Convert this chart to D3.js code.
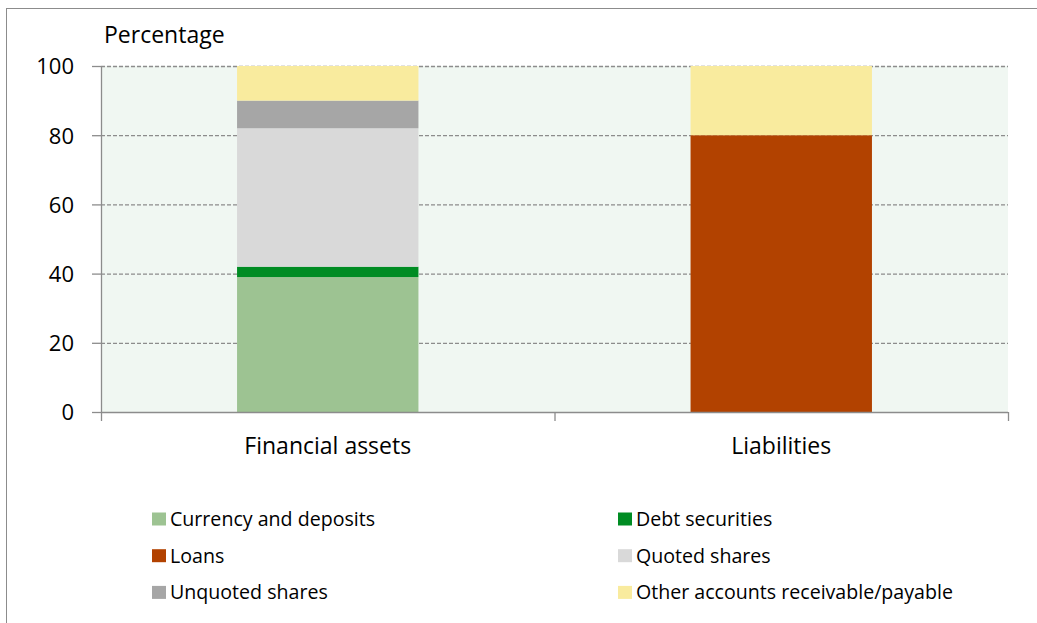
<!DOCTYPE html>
<html>
<head>
<meta charset="utf-8">
<script src="https://d3js.org/d3.v7.min.js"></script>
<style>
	body { margin:0; background:#fff; overflow:hidden; }
	svg text { font-family: "Open Sans", sans-serif; fill:#000; }
</style>
</head>
<body>
<div id="chart"></div>
<script>
// categories and series (percent of total)
var categories = ['Financial assets', 'Liabilities'];
var seriesNames = ['Currency and deposits', 'Debt securities', 'Loans', 'Quoted shares', 'Unquoted shares', 'Other accounts receivable/payable'];
var currency = [39, 0];
var debt = [3, 0];
var loans = [0, 80];
var quoted = [40, 0];
var unquoted = [8, 0];
var other = [10, 20];
var colors = ['#9dc392', '#008c23', '#b24200', '#d9d9d9', '#a6a6a6', '#f9eb9e'];
var yTicks = [0, 20, 40, 60, 80, 100];

var width = 1037, height = 623,
	margin = {top:66, bottom:211, left:101, right:29};

var rows = categories.map(function(c, i){
	return {cat:c, s0:currency[i], s1:debt[i], s2:loans[i], s3:quoted[i], s4:unquoted[i], s5:other[i]};
});
var stack = d3.stack().keys(['s0','s1','s2','s3','s4','s5'])(rows);

var svg = d3.select('#chart').append('svg')
	.attr('width', width).attr('height', height);

// outer frame (runs off the right and bottom)
svg.append('rect')
	.attr('x', 6.5).attr('y', 8.5).attr('width', 1040).attr('height', 640)
	.attr('fill', 'none').attr('stroke', '#8c8c8c').attr('stroke-width', 1);

var pw = width - margin.left - margin.right,
	ph = height - margin.top - margin.bottom;

var x = d3.scaleBand().domain(categories).range([0, pw]).paddingInner(0.6).paddingOuter(0.3);
var y = d3.scaleLinear().domain([0, 100]).range([ph, 0]);

var g = svg.append('g').attr('transform', 'translate(' + margin.left + ',' + margin.top + ')');

g.append('rect').attr('width', pw).attr('height', ph).attr('fill', '#f0f7f2');

// gridlines
g.selectAll('.grid').data(yTicks.slice(1)).enter().append('line')
	.attr('x1', 0).attr('x2', pw)
	.attr('y1', function(d){ return y(d) + 0.5; }).attr('y2', function(d){ return y(d) + 0.5; })
	.attr('stroke', '#8c8c8c').attr('stroke-width', 1.3).attr('stroke-dasharray', '4,2');

// bars
var layers = g.selectAll('.layer').data(stack).enter().append('g')
	.attr('fill', function(d, i){ return colors[i]; });
layers.selectAll('rect').data(function(d){ return d; }).enter().append('rect')
	.attr('x', function(d){ return x(d.data.cat); })
	.attr('width', x.bandwidth())
	.attr('y', function(d){ return y(d[1]); })
	.attr('height', function(d){ return y(d[0]) - y(d[1]); });

// y axis
var yAxis = g.append('g').call(d3.axisLeft(y).tickValues(yTicks).tickSize(9).tickPadding(18));
yAxis.select('.domain').attr('stroke', '#8c8c8c').attr('stroke-width', 1.3).attr('d', 'M0.5,0V' + ph);
yAxis.selectAll('line').attr('stroke', '#8c8c8c').attr('stroke-width', 1.3);
yAxis.selectAll('text').attr('font-size', 22).style('font-family', '"Open Sans", sans-serif').attr('dy', '0.36em');

// x axis
var xb = d3.scaleLinear().domain([0, 2]).range([0, pw]);
var xAxis = g.append('g').attr('transform', 'translate(0,' + ph + ')');
xAxis.append('line').attr('x1', 0).attr('x2', pw).attr('y1', 0.5).attr('y2', 0.5).attr('stroke', '#8c8c8c').attr('stroke-width', 1.5);
xAxis.selectAll('.tk').data([0, 1, 2]).enter().append('line')
	.attr('x1', function(d){ return xb(d) + 0.5; }).attr('x2', function(d){ return xb(d) + 0.5; })
	.attr('y1', 0).attr('y2', 9).attr('stroke', '#8c8c8c').attr('stroke-width', 1.3);
xAxis.selectAll('.lbl').data(categories).enter().append('text')
	.attr('x', function(d, i){ return xb(i + 0.5); })
	.attr('y', 42).attr('text-anchor', 'middle').attr('font-size', 23)
	.text(function(d){ return d; });

svg.append('text').attr('x', 104).attr('y', 43).attr('font-size', 23).text('Percentage');

// legend
var legend = svg.selectAll('.leg').data(seriesNames).enter().append('g')
	.attr('transform', function(d, i){
		return 'translate(' + (i % 2 ? 618 : 152) + ',' + (519 + Math.floor(i / 2) * 36.7) + ')';
	});
legend.append('rect').attr('x', 0).attr('y', -6.5).attr('width', 14).attr('height', 13)
	.attr('fill', function(d, i){ return colors[i]; });
legend.append('text').attr('x', 18).attr('y', 7).attr('font-size', 19.6).text(function(d){ return d; });
</script>
</body>
</html>
